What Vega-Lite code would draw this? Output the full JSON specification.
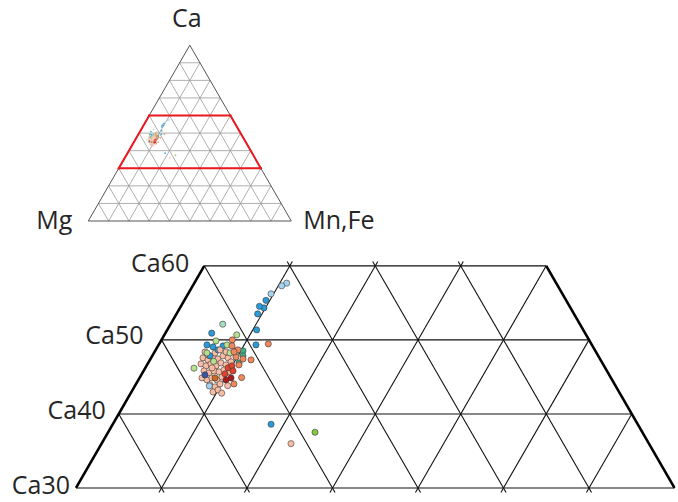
{
  "$schema": "https://vega.github.io/schema/vega-lite/v6.json",
  "padding": 0,
  "spacing": 0,
  "background": "white",
  "config": {"view": {"stroke": null}, "concat": {"spacing": 0}, "text": {"font": "Open Sans", "fontSize": 25, "color": "#262626"}},
  "datasets": {
    "points": [
      {"group":"G","Ca":47.57,"MnFe":6.07},{"group":"G","Ca":47.30,"MnFe":6.79},{"group":"G","Ca":47.70,"MnFe":7.17},
      {"group":"G","Ca":47.43,"MnFe":7.89},{"group":"G","Ca":47.84,"MnFe":8.27},{"group":"G","Ca":47.57,"MnFe":9.00},
      {"group":"G","Ca":46.76,"MnFe":6.24},{"group":"G","Ca":46.49,"MnFe":6.96},{"group":"G","Ca":46.76,"MnFe":7.41},
      {"group":"G","Ca":46.49,"MnFe":8.13},{"group":"G","Ca":46.89,"MnFe":8.51},{"group":"G","Ca":46.62,"MnFe":9.23},
      {"group":"G","Ca":47.03,"MnFe":9.62},{"group":"G","Ca":45.81,"MnFe":7.07},{"group":"G","Ca":45.54,"MnFe":7.79},
      {"group":"G","Ca":45.81,"MnFe":8.24},{"group":"G","Ca":45.68,"MnFe":8.89},{"group":"G","Ca":45.95,"MnFe":9.34},
      {"group":"G","Ca":44.86,"MnFe":7.31},{"group":"G","Ca":44.59,"MnFe":8.03},
      {"group":"G","Ca":44.86,"MnFe":8.47},{"group":"G","Ca":44.59,"MnFe":9.19},{"group":"G","Ca":45.00,"MnFe":9.58},
      {"group":"G","Ca":43.92,"MnFe":8.71},{"group":"G","Ca":43.65,"MnFe":9.43},{"group":"G","Ca":44.05,"MnFe":9.82},
      {"group":"G","Ca":48.38,"MnFe":5.90},{"group":"G","Ca":48.24,"MnFe":7.14},
      {"group":"G","Ca":42.97,"MnFe":9.54},{"group":"G","Ca":43.24,"MnFe":9.99},{"group":"G","Ca":46.22,"MnFe":7.80},
      {"group":"G","Ca":47.97,"MnFe":6.45},{"group":"G","Ca":48.38,"MnFe":8.36},{"group":"G","Ca":48.51,"MnFe":9.46},
      {"group":"G","Ca":42.80,"MnFe":10.64},{"group":"G","Ca":43.82,"MnFe":10.83},{"group":"G","Ca":35.99,"MnFe":22.15},
      {"group":"A","Ca":57.66,"MnFe":10.81},{"group":"A","Ca":57.30,"MnFe":10.41},{"group":"A","Ca":56.22,"MnFe":9.70},
      {"group":"B","Ca":55.34,"MnFe":9.55},{"group":"B","Ca":54.32,"MnFe":9.83},{"group":"B","Ca":54.53,"MnFe":9.19},
      {"group":"B","Ca":53.51,"MnFe":9.49},{"group":"B","Ca":51.35,"MnFe":10.45},{"group":"B","Ca":49.32,"MnFe":11.39},
      {"group":"H","Ca":49.46,"MnFe":12.76},{"group":"B","Ca":38.61,"MnFe":18.51},{"group":"E","Ca":37.53,"MnFe":24.19},
      {"group":"C","Ca":52.12,"MnFe":6.10},{"group":"B","Ca":50.91,"MnFe":5.42},
      {"group":"D","Ca":50.68,"MnFe":8.46},{"group":"D","Ca":49.86,"MnFe":6.44},{"group":"H","Ca":50.00,"MnFe":8.28},
      {"group":"D","Ca":46.18,"MnFe":5.71},{"group":"A","Ca":43.78,"MnFe":8.70},
      {"group":"B","Ca":49.32,"MnFe":5.66},{"group":"B","Ca":49.05,"MnFe":6.50},{"group":"B","Ca":48.65,"MnFe":7.28},
      {"group":"B","Ca":47.84,"MnFe":6.75},{"group":"B","Ca":49.19,"MnFe":7.60},
      {"group":"D","Ca":49.32,"MnFe":8.00},{"group":"D","Ca":48.24,"MnFe":8.89},{"group":"D","Ca":48.24,"MnFe":6.20},
      {"group":"D","Ca":47.97,"MnFe":9.73},{"group":"D","Ca":47.10,"MnFe":7.55},
      {"group":"F","Ca":48.51,"MnFe":10.28},{"group":"F","Ca":47.84,"MnFe":10.61},{"group":"F","Ca":46.89,"MnFe":10.62},
      {"group":"H","Ca":49.19,"MnFe":8.65},{"group":"H","Ca":48.65,"MnFe":9.62},{"group":"H","Ca":47.70,"MnFe":9.86},
      {"group":"H","Ca":47.43,"MnFe":10.82},{"group":"H","Ca":46.62,"MnFe":10.75},{"group":"H","Ca":48.38,"MnFe":9.29},
      {"group":"H","Ca":44.05,"MnFe":11.45},{"group":"H","Ca":44.91,"MnFe":11.92},{"group":"H","Ca":47.30,"MnFe":11.82},
      {"group":"G","Ca":48.65,"MnFe":7.52},{"group":"G","Ca":45.68,"MnFe":10.06},
      {"group":"K","Ca":45.27,"MnFe":7.45},{"group":"L","Ca":44.86,"MnFe":8.83},
      {"group":"I","Ca":46.22,"MnFe":9.67},{"group":"I","Ca":45.41,"MnFe":9.72},{"group":"I","Ca":46.49,"MnFe":10.00},
      {"group":"I","Ca":45.81,"MnFe":10.46},
      {"group":"J","Ca":44.59,"MnFe":10.25},{"group":"J","Ca":44.86,"MnFe":10.70}
    ],
    "mainGrid": [
      {"ca1":60,"mf1":0,"ca2":60,"mf2":40},{"ca1":50,"mf1":0,"ca2":50,"mf2":50},
      {"ca1":40,"mf1":0,"ca2":40,"mf2":60},{"ca1":30,"mf1":0,"ca2":30,"mf2":70},
      {"ca1":60.6,"mf1":10,"ca2":29.4,"mf2":10},{"ca1":60.6,"mf1":20,"ca2":29.4,"mf2":20},
      {"ca1":60.6,"mf1":30,"ca2":29.4,"mf2":30},{"ca1":60,"mf1":40,"ca2":29.4,"mf2":40},
      {"ca1":50,"mf1":50,"ca2":29.4,"mf2":50},{"ca1":40,"mf1":60,"ca2":29.4,"mf2":60},
      {"ca1":60.6,"mf1":29.4,"ca2":29.4,"mf2":60.6},{"ca1":60.6,"mf1":19.4,"ca2":29.4,"mf2":50.6},
      {"ca1":60.6,"mf1":9.4,"ca2":29.4,"mf2":40.6},{"ca1":60,"mf1":0,"ca2":29.4,"mf2":30.6},
      {"ca1":50,"mf1":0,"ca2":29.4,"mf2":20.6},{"ca1":40,"mf1":0,"ca2":29.4,"mf2":10.6}
    ],
    "mainEdges": [
      {"ca1":60,"mf1":0,"ca2":30,"mf2":0},{"ca1":60,"mf1":40,"ca2":30,"mf2":70}
    ],
    "mainLabels": [
      {"label":"Ca60","Ca":60,"MnFe":0},{"label":"Ca50","Ca":50,"MnFe":0},
      {"label":"Ca40","Ca":40,"MnFe":0},{"label":"Ca30","Ca":30,"MnFe":0}
    ],
    "insetGrid": [
      {"ca1":10,"mf1":0,"ca2":10,"mf2":90},{"ca1":20,"mf1":0,"ca2":20,"mf2":80},{"ca1":30,"mf1":0,"ca2":30,"mf2":70},
      {"ca1":40,"mf1":0,"ca2":40,"mf2":60},{"ca1":50,"mf1":0,"ca2":50,"mf2":50},{"ca1":60,"mf1":0,"ca2":60,"mf2":40},
      {"ca1":70,"mf1":0,"ca2":70,"mf2":30},{"ca1":80,"mf1":0,"ca2":80,"mf2":20},{"ca1":90,"mf1":0,"ca2":90,"mf2":10},
      {"ca1":0,"mf1":10,"ca2":90,"mf2":10},{"ca1":0,"mf1":20,"ca2":80,"mf2":20},{"ca1":0,"mf1":30,"ca2":70,"mf2":30},
      {"ca1":0,"mf1":40,"ca2":60,"mf2":40},{"ca1":0,"mf1":50,"ca2":50,"mf2":50},{"ca1":0,"mf1":60,"ca2":40,"mf2":60},
      {"ca1":0,"mf1":70,"ca2":30,"mf2":70},{"ca1":0,"mf1":80,"ca2":20,"mf2":80},{"ca1":0,"mf1":90,"ca2":10,"mf2":90},
      {"ca1":0,"mf1":90,"ca2":90,"mf2":0},{"ca1":0,"mf1":80,"ca2":80,"mf2":0},{"ca1":0,"mf1":70,"ca2":70,"mf2":0},
      {"ca1":0,"mf1":60,"ca2":60,"mf2":0},{"ca1":0,"mf1":50,"ca2":50,"mf2":0},{"ca1":0,"mf1":40,"ca2":40,"mf2":0},
      {"ca1":0,"mf1":30,"ca2":30,"mf2":0},{"ca1":0,"mf1":20,"ca2":20,"mf2":0},{"ca1":0,"mf1":10,"ca2":10,"mf2":0}
    ],
    "insetEdges": [
      {"ca1":0,"mf1":0,"ca2":0,"mf2":100},{"ca1":0,"mf1":0,"ca2":100,"mf2":0},{"ca1":0,"mf1":100,"ca2":100,"mf2":0}
    ],
    "zoomBox": [
      {"ca1":60,"mf1":0,"ca2":60,"mf2":40},{"ca1":60,"mf1":40,"ca2":30,"mf2":70},
      {"ca1":30,"mf1":70,"ca2":30,"mf2":0},{"ca1":30,"mf1":0,"ca2":60,"mf2":0}
    ],
    "insetLabels": [
      {"label":"Ca","Ca":100,"MnFe":0},{"label":"Mg","Ca":0,"MnFe":0},{"label":"Mn,Fe","Ca":0,"MnFe":100}
    ]
  },
  "vconcat": [
    {
      "width": 678,
      "height": 245,
      "layer": [
        {
          "data": {"name": "insetGrid"},
          "transform": [
            {"calculate": "datum.mf1 + datum.ca1/2", "as": "x1"},
            {"calculate": "datum.ca1*0.8660254", "as": "y1"},
            {"calculate": "datum.mf2 + datum.ca2/2", "as": "x2"},
            {"calculate": "datum.ca2*0.8660254", "as": "y2"}
          ],
          "mark": {"type": "rule", "color": "#9a9a9a", "strokeWidth": 0.8},
          "encoding": {
            "x": {"field": "x1", "type": "quantitative", "scale": {"domain": [-43.5, 290.5], "nice": false, "zero": false}, "axis": null},
            "y": {"field": "y1", "type": "quantitative", "scale": {"domain": [-11.82, 108.87], "nice": false, "zero": false}, "axis": null},
            "x2": {"field": "x2"},
            "y2": {"field": "y2"}
          }
        },
        {
          "data": {"name": "insetEdges"},
          "transform": [
            {"calculate": "datum.mf1 + datum.ca1/2", "as": "x1"},
            {"calculate": "datum.ca1*0.8660254", "as": "y1"},
            {"calculate": "datum.mf2 + datum.ca2/2", "as": "x2"},
            {"calculate": "datum.ca2*0.8660254", "as": "y2"}
          ],
          "mark": {"type": "rule", "color": "#555555", "strokeWidth": 1},
          "encoding": {
            "x": {"field": "x1", "type": "quantitative"},
            "y": {"field": "y1", "type": "quantitative"},
            "x2": {"field": "x2"},
            "y2": {"field": "y2"}
          }
        },
        {
          "data": {"name": "zoomBox"},
          "transform": [
            {"calculate": "datum.mf1 + datum.ca1/2", "as": "x1"},
            {"calculate": "datum.ca1*0.8660254", "as": "y1"},
            {"calculate": "datum.mf2 + datum.ca2/2", "as": "x2"},
            {"calculate": "datum.ca2*0.8660254", "as": "y2"}
          ],
          "mark": {"type": "rule", "color": "#e8191f", "strokeWidth": 2, "strokeCap": "square"},
          "encoding": {
            "x": {"field": "x1", "type": "quantitative"},
            "y": {"field": "y1", "type": "quantitative"},
            "x2": {"field": "x2"},
            "y2": {"field": "y2"}
          }
        },
        {
          "data": {"name": "points"},
          "transform": [
            {"calculate": "datum.MnFe + datum.Ca/2", "as": "xc"},
            {"calculate": "datum.Ca*0.8660254", "as": "yc"}
          ],
          "mark": {"type": "circle", "size": 3, "opacity": 0.85},
          "encoding": {
            "x": {"field": "xc", "type": "quantitative"},
            "y": {"field": "yc", "type": "quantitative"},
            "color": {"field": "group", "type": "nominal", "legend": null,
              "scale": {"domain": ["A","B","C","D","E","F","G","H","I","J","K","L"],
                "range": ["#a6d3f0","#2b9ad6","#a9dcc0","#b5e08f","#88c540","#3fae8a","#f9bca5","#f0885e","#e0432d","#a91b1b","#3a56a5","#cc6a20"]}}
          }
        },
        {
          "data": {"name": "insetLabels"},
          "transform": [
            {"filter": "datum.label == 'Ca'"},
            {"calculate": "datum.MnFe + datum.Ca/2", "as": "xc"},
            {"calculate": "datum.Ca*0.8660254", "as": "yc"}
          ],
          "mark": {"type": "text", "align": "center", "baseline": "middle", "dx": -3, "dy": -26},
          "encoding": {
            "x": {"field": "xc", "type": "quantitative"},
            "y": {"field": "yc", "type": "quantitative"},
            "text": {"field": "label"}
          }
        },
        {
          "data": {"name": "insetLabels"},
          "transform": [
            {"filter": "datum.label == 'Mg'"},
            {"calculate": "datum.MnFe + datum.Ca/2", "as": "xc"},
            {"calculate": "datum.Ca*0.8660254", "as": "yc"}
          ],
          "mark": {"type": "text", "align": "right", "baseline": "middle", "dx": -16, "dy": 0},
          "encoding": {
            "x": {"field": "xc", "type": "quantitative"},
            "y": {"field": "yc", "type": "quantitative"},
            "text": {"field": "label"}
          }
        },
        {
          "data": {"name": "insetLabels"},
          "transform": [
            {"filter": "datum.label == 'Mn,Fe'"},
            {"calculate": "datum.MnFe + datum.Ca/2", "as": "xc"},
            {"calculate": "datum.Ca*0.8660254", "as": "yc"}
          ],
          "mark": {"type": "text", "align": "left", "baseline": "middle", "dx": 12, "dy": 0},
          "encoding": {
            "x": {"field": "xc", "type": "quantitative"},
            "y": {"field": "yc", "type": "quantitative"},
            "text": {"field": "label"}
          }
        }
      ]
    },
    {
      "width": 678,
      "height": 257,
      "layer": [
        {
          "data": {"name": "mainGrid"},
          "transform": [
            {"calculate": "datum.mf1 + datum.ca1/2", "as": "x1"},
            {"calculate": "datum.ca1*0.8660254", "as": "y1"},
            {"calculate": "datum.mf2 + datum.ca2/2", "as": "x2"},
            {"calculate": "datum.ca2*0.8660254", "as": "y2"}
          ],
          "mark": {"type": "rule", "color": "#111111", "strokeWidth": 1.1},
          "encoding": {
            "x": {"field": "x1", "type": "quantitative", "scale": {"domain": [6.111, 85.41], "nice": false, "zero": false}, "axis": null},
            "y": {"field": "y1", "type": "quantitative", "scale": {"domain": [24.34, 54.40], "nice": false, "zero": false}, "axis": null},
            "x2": {"field": "x2"},
            "y2": {"field": "y2"}
          }
        },
        {
          "data": {"name": "mainEdges"},
          "transform": [
            {"calculate": "datum.mf1 + datum.ca1/2", "as": "x1"},
            {"calculate": "datum.ca1*0.8660254", "as": "y1"},
            {"calculate": "datum.mf2 + datum.ca2/2", "as": "x2"},
            {"calculate": "datum.ca2*0.8660254", "as": "y2"}
          ],
          "mark": {"type": "rule", "color": "#000000", "strokeWidth": 2.6},
          "encoding": {
            "x": {"field": "x1", "type": "quantitative"},
            "y": {"field": "y1", "type": "quantitative"},
            "x2": {"field": "x2"},
            "y2": {"field": "y2"}
          }
        },
        {
          "data": {"name": "points"},
          "transform": [
            {"calculate": "datum.MnFe + datum.Ca/2", "as": "xc"},
            {"calculate": "datum.Ca*0.8660254", "as": "yc"}
          ],
          "mark": {"type": "circle", "size": 38, "opacity": 1, "stroke": "#3a3a3a", "strokeWidth": 0.6},
          "encoding": {
            "x": {"field": "xc", "type": "quantitative"},
            "y": {"field": "yc", "type": "quantitative"},
            "color": {"field": "group", "type": "nominal", "legend": null,
              "scale": {"domain": ["A","B","C","D","E","F","G","H","I","J","K","L"],
                "range": ["#a6d3f0","#2b9ad6","#a9dcc0","#b5e08f","#88c540","#3fae8a","#f9bca5","#f0885e","#e0432d","#a91b1b","#3a56a5","#cc6a20"]}}
          }
        },
        {
          "data": {"name": "mainLabels"},
          "transform": [
            {"filter": "datum.label == 'Ca60'"},
            {"calculate": "datum.MnFe + datum.Ca/2", "as": "xc"},
            {"calculate": "datum.Ca*0.8660254", "as": "yc"}
          ],
          "mark": {"type": "text", "align": "right", "baseline": "middle", "dx": -15, "dy": -2},
          "encoding": {
            "x": {"field": "xc", "type": "quantitative"},
            "y": {"field": "yc", "type": "quantitative"},
            "text": {"field": "label"}
          }
        },
        {
          "data": {"name": "mainLabels"},
          "transform": [
            {"filter": "datum.label == 'Ca50'"},
            {"calculate": "datum.MnFe + datum.Ca/2", "as": "xc"},
            {"calculate": "datum.Ca*0.8660254", "as": "yc"}
          ],
          "mark": {"type": "text", "align": "right", "baseline": "middle", "dx": -18, "dy": -4},
          "encoding": {
            "x": {"field": "xc", "type": "quantitative"},
            "y": {"field": "yc", "type": "quantitative"},
            "text": {"field": "label"}
          }
        },
        {
          "data": {"name": "mainLabels"},
          "transform": [
            {"filter": "datum.label == 'Ca40'"},
            {"calculate": "datum.MnFe + datum.Ca/2", "as": "xc"},
            {"calculate": "datum.Ca*0.8660254", "as": "yc"}
          ],
          "mark": {"type": "text", "align": "right", "baseline": "middle", "dx": -13, "dy": -3},
          "encoding": {
            "x": {"field": "xc", "type": "quantitative"},
            "y": {"field": "yc", "type": "quantitative"},
            "text": {"field": "label"}
          }
        },
        {
          "data": {"name": "mainLabels"},
          "transform": [
            {"filter": "datum.label == 'Ca30'"},
            {"calculate": "datum.MnFe + datum.Ca/2", "as": "xc"},
            {"calculate": "datum.Ca*0.8660254", "as": "yc"}
          ],
          "mark": {"type": "text", "align": "right", "baseline": "middle", "dx": -6, "dy": -2},
          "encoding": {
            "x": {"field": "xc", "type": "quantitative"},
            "y": {"field": "yc", "type": "quantitative"},
            "text": {"field": "label"}
          }
        }
      ]
    }
  ]
}
